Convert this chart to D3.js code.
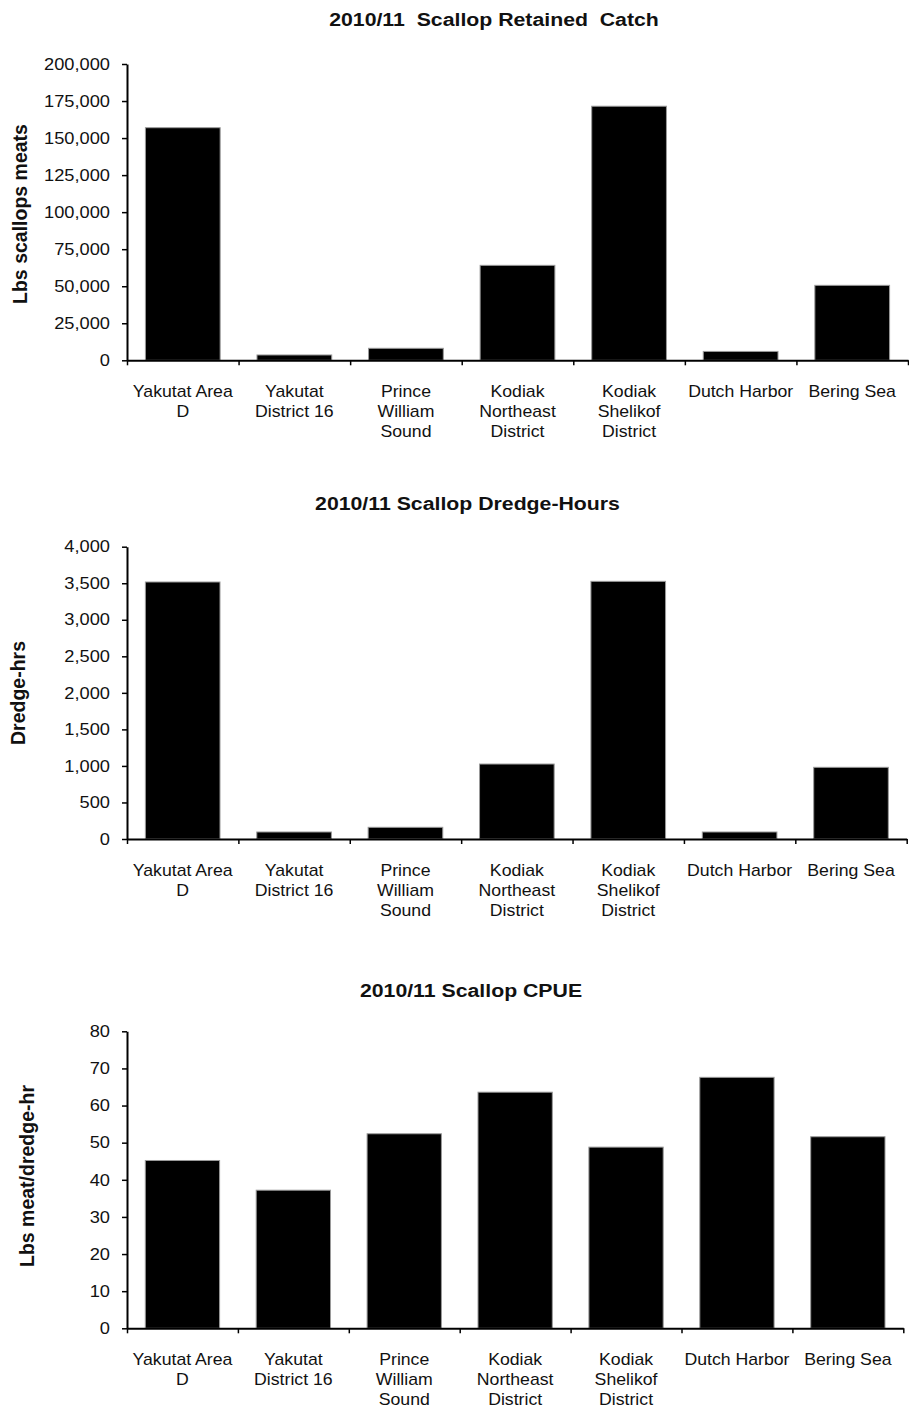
<!DOCTYPE html>
<html>
<head>
<meta charset="utf-8">
<script src="https://cdn.jsdelivr.net/npm/d3@7"></script>
<style>
  body { margin: 0; background: #fff; }
  text { font-family: "Liberation Sans", Arial, sans-serif; fill: #111; }
</style>
</head>
<body>
<div id="chart"></div>
<script>
// categories (regions) and their wrapped tick labels
const regions = ["Yakutat Area D", "Yakutat District 16", "Prince William Sound",
    "Kodiak Northeast District", "Kodiak Shelikof District", "Dutch Harbor", "Bering Sea"];
const regionLines = [["Yakutat Area", "D"], ["Yakutat", "District 16"], ["Prince", "William", "Sound"],
    ["Kodiak", "Northeast", "District"], ["Kodiak", "Shelikof", "District"], ["Dutch Harbor"], ["Bering Sea"]];

// series values
const retainedCatch = [157000, 3600, 8100, 64100, 171500, 6000, 50600];
const dredgeHours = [3517, 96, 160, 1026, 3526, 96, 981];
const cpue = [45.2, 37.2, 52.4, 63.6, 48.8, 67.6, 51.6];

const width = 909, height = 1409;

const svg = d3.select("#chart")
    .append("svg")
    .attr("width", width)
    .attr("height", height);

// one panel per chart
const panels = [
    { title: "2010/11  Scallop Retained  Catch", yTitle: "Lbs scallops meats", values: retainedCatch,
      yMax: 200000, step: 25000, x0: 127, x1: 908, yTop: 64, yBot: 360.3,
      titleX: 494, titleY: 26, yTitleX: 20, yTitleY: 214 },
    { title: "2010/11 Scallop Dredge-Hours", yTitle: "Dredge-hrs", values: dredgeHours,
      yMax: 4000, step: 500, x0: 127, x1: 906.7, yTop: 546.7, yBot: 839,
      titleX: 467.5, titleY: 510, yTitleX: 18, yTitleY: 693 },
    { title: "2010/11 Scallop CPUE", yTitle: "Lbs meat/dredge-hr", values: cpue,
      yMax: 80, step: 10, x0: 127, x1: 903.3, yTop: 1031.3, yBot: 1328.3,
      titleX: 471, titleY: 996.7, yTitleX: 27, yTitleY: 1176 }
];

panels.forEach(p => {
    const g = svg.append("g");
    const data = regions.map((r, i) => ({ region: r, lines: regionLines[i], value: p.values[i] }));

    const xScale = d3.scaleBand()
        .domain(regions)
        .range([p.x0, p.x1])
        .paddingInner(0.33)
        .paddingOuter(0.165);

    // boundaries between categories for the tick marks
    const xEdge = d3.scaleLinear()
        .domain([0, regions.length])
        .range([p.x0, p.x1]);

    const yScale = d3.scaleLinear()
        .domain([0, p.yMax])
        .range([p.yBot, p.yTop]);

    // bars
    g.selectAll("rect")
        .data(data)
        .enter()
        .append("rect")
        .attr("x", d => xScale(d.region))
        .attr("y", d => yScale(d.value))
        .attr("width", xScale.bandwidth())
        .attr("height", d => yScale(0) - yScale(d.value))
        .attr("fill", "#000")
        .attr("stroke", "#9a9a9a")
        .attr("stroke-width", 1);

    // y axis
    const yAxis = d3.axisLeft(yScale)
        .tickValues(d3.range(0, p.yMax + 1, p.step))
        .tickFormat(d3.format(","))
        .tickSize(5)
        .tickSizeOuter(0)
        .tickPadding(12);

    const yg = g.append("g")
        .attr("transform", `translate(${p.x0},0)`)
        .call(yAxis);
    yg.select(".domain").attr("stroke", "#000").attr("stroke-width", 2);
    yg.selectAll(".tick line").attr("stroke", "#000").attr("stroke-width", 1.5);
    yg.selectAll(".tick text")
        .attr("font-size", 16.3)
        .attr("fill", "#111")
        .attr("font-family", "Liberation Sans, Arial, sans-serif")
        .attr("transform", function () {
            // stretch the labels a little, anchored on their right end
            const x = +d3.select(this).attr("x");
            return `translate(${x},0) scale(1.12,1) translate(${-x},0)`;
        });

    // x axis: tick marks at category boundaries
    const xAxis = d3.axisBottom(xEdge)
        .tickValues(d3.range(0, regions.length + 1))
        .tickFormat("")
        .tickSize(5)
        .tickSizeOuter(0);

    const xg = g.append("g")
        .attr("transform", `translate(0,${p.yBot})`)
        .call(xAxis);
    xg.select(".domain").attr("stroke", "#000").attr("stroke-width", 2);
    xg.selectAll(".tick line").attr("stroke", "#000").attr("stroke-width", 1.5);

    // category labels, wrapped like the original
    const labels = g.selectAll(".cat")
        .data(data)
        .enter()
        .append("text")
        .attr("class", "cat")
        .attr("text-anchor", "middle")
        .attr("font-size", 17)
        .attr("transform", d => `translate(${xScale(d.region) + xScale.bandwidth() / 2},${p.yBot + 37}) scale(1.04,1)`);
    labels.selectAll("tspan")
        .data(d => d.lines)
        .enter()
        .append("tspan")
        .attr("x", 0)
        .attr("y", (d, i) => i * 20)
        .text(d => d);

    // title
    g.append("text")
        .attr("transform", `translate(${p.titleX},${p.titleY}) scale(1.15,1)`)
        .attr("text-anchor", "middle")
        .attr("font-size", 18.5)
        .attr("font-weight", "bold")
        .attr("fill", "#000")
        .style("white-space", "pre")
        .text(p.title);

    // y axis title
    g.append("text")
        .attr("transform", `translate(${p.yTitleX},${p.yTitleY}) rotate(-90)`)
        .attr("text-anchor", "middle")
        .attr("dy", "0.35em")
        .attr("font-size", 19.5)
        .attr("font-weight", "bold")
        .attr("fill", "#000")
        .text(p.yTitle);
});
</script>
</body>
</html>
